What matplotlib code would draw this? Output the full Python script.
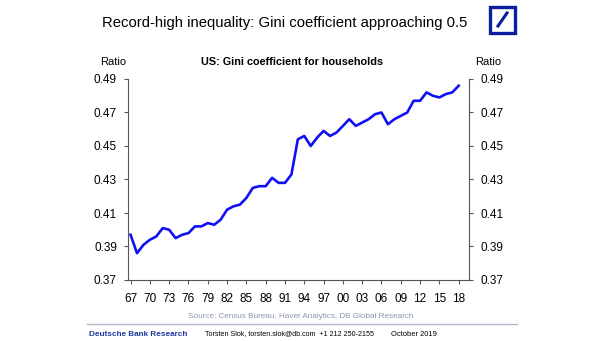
import matplotlib
matplotlib.use("Agg")
import matplotlib.pyplot as plt
from matplotlib.patches import Rectangle
from matplotlib.lines import Line2D

plt.rcParams["font.family"] = ["Liberation Sans", "DejaVu Sans"]

# US household Gini coefficient (Census Bureau)
years = list(range(1967, 2019))
gini = [0.397, 0.386, 0.391, 0.394, 0.396, 0.401, 0.400, 0.395, 0.397, 0.398,
        0.402, 0.402, 0.404, 0.403, 0.406, 0.412, 0.414, 0.415, 0.419, 0.425,
        0.426, 0.426, 0.431, 0.428, 0.428, 0.433, 0.454, 0.456, 0.450, 0.455,
        0.459, 0.456, 0.458, 0.462, 0.466, 0.462, 0.464, 0.466, 0.469, 0.470,
        0.463, 0.466, 0.468, 0.470, 0.477, 0.477, 0.482, 0.480, 0.479, 0.481,
        0.482, 0.486]
xtick_years = list(range(1967, 2019, 3))
xtick_labels = [f"{y % 100:02d}" for y in xtick_years]
ytick_values = [0.37, 0.39, 0.41, 0.43, 0.45, 0.47, 0.49]

W, H = 605, 341
fig = plt.figure(figsize=(W / 100, H / 100), dpi=100)
ax = fig.add_axes([128 / W, 1 - 280 / H, (469 - 128) / W, (280 - 79) / H])

ax.plot(years, gini, color="#1010F5", lw=1.9, solid_joinstyle="round")

ax.set_xlim(1966.6, 2019.6)
ax.set_ylim(0.37, 0.49)
ax.set_xticks(xtick_years)
ax.set_xticklabels(xtick_labels)
ax.set_yticks(ytick_values)
ax.set_yticklabels([f"{v:.2f}" for v in ytick_values])

spine_col = "#555555"
ax.spines["top"].set_visible(False)
for s in ("left", "right", "bottom"):
    ax.spines[s].set_color(spine_col)
    ax.spines[s].set_linewidth(0.8)
ax.tick_params(axis="y", left=True, right=True, labelleft=True, labelright=True,
               direction="out", length=3, width=0.8, color=spine_col,
               labelsize=8.5, pad=5)
ax.tick_params(axis="x", direction="out", length=3, width=0.8, color=spine_col,
               labelsize=8.5, pad=6)

# titles and axis captions
fig.text(285 / W, 1 - 23 / H, "Record-high inequality: Gini coefficient approaching 0.5",
         ha="center", va="center", fontsize=10.7)
fig.text(292 / W, 1 - 62 / H, "US: Gini coefficient for households",
         ha="center", va="center", fontsize=7.8, fontweight="bold")
fig.text(100 / W, 1 - 62 / H, "Ratio", ha="left", va="center", fontsize=8)
fig.text(475 / W, 1 - 62 / H, "Ratio", ha="left", va="center", fontsize=8)

# logo
logo_blue = "#0A1E9E"
fig.add_artist(Rectangle((490 / W, 1 - 33 / H), 25 / W, 26 / H, transform=fig.transFigure,
                         fill=False, edgecolor=logo_blue, lw=2.4))
fig.add_artist(Line2D([498 / W, 507 / W], [1 - 26 / H, 1 - 13 / H], transform=fig.transFigure,
                      color=logo_blue, lw=2.2))

# footer
fig.text(301 / W, 1 - 317 / H, "Source: Census Bureau, Haver Analytics, DB Global Research",
         ha="center", va="center", fontsize=5.9, color="#8A96AD")
fig.add_artist(Line2D([87 / W, 517 / W], [1 - 324 / H, 1 - 324 / H], transform=fig.transFigure,
                      color="#AEB8CC", lw=1.0))
fig.text(89 / W, 1 - 334 / H, "Deutsche Bank Research", ha="left", va="center",
         fontsize=5.9, fontweight="bold", color="#1E3A9E")
fig.text(205 / W, 1 - 334 / H, "Torsten Slok, torsten.slok@db.com  +1 212 250-2155",
         ha="left", va="center", fontsize=5.1)
fig.text(391 / W, 1 - 334 / H, "October 2019", ha="left", va="center", fontsize=5.4)

fig.savefig("out.png", dpi=100)
